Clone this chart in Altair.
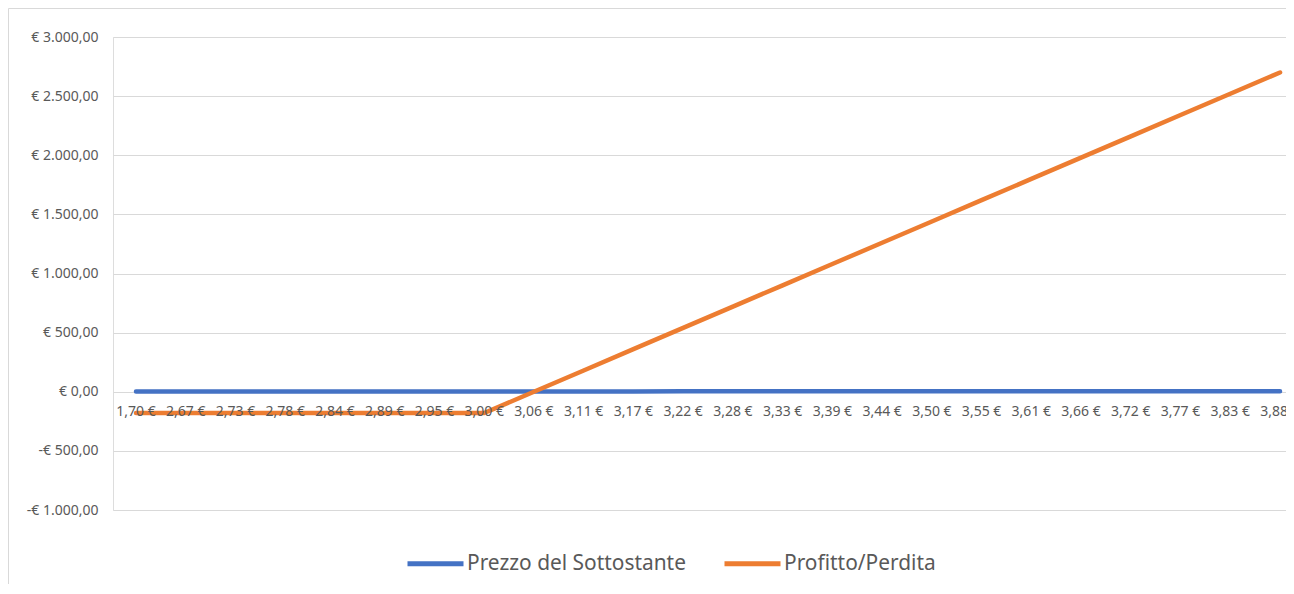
import altair as alt
import pandas as pd

# --- data ---
price_labels = ["1,70 €", "2,67 €", "2,73 €", "2,78 €", "2,84 €", "2,89 €", "2,95 €", "3,00 €",
                "3,06 €", "3,11 €", "3,17 €", "3,22 €", "3,28 €", "3,33 €", "3,39 €", "3,44 €",
                "3,50 €", "3,55 €", "3,61 €", "3,66 €", "3,72 €", "3,77 €", "3,83 €", "3,88 €"]
prezzo = [1.70, 2.67, 2.73, 2.78, 2.84, 2.89, 2.95, 3.00, 3.06, 3.11, 3.17, 3.22,
          3.28, 3.33, 3.39, 3.44, 3.50, 3.55, 3.61, 3.66, 3.72, 3.77, 3.83, 3.88]
profitto = [-180, -180, -180, -180, -180, -180, -180, -180, 0, 180, 360, 540,
            720, 900, 1080, 1260, 1440, 1620, 1800, 1980, 2160, 2340, 2520, 2700]
series_names = ["Prezzo del Sottostante", "Profitto/Perdita"]
series_colors = ["#4472C4", "#ED7D31"]
y_ticks = [-1000, -500, 0, 500, 1000, 1500, 2000, 2500, 3000]

rows = []
for i, lab in enumerate(price_labels):
    rows.append({"idx": i, "label": lab, "serie": series_names[0], "valore": prezzo[i]})
    rows.append({"idx": i, "label": lab, "serie": series_names[1], "valore": profitto[i]})
df = pd.DataFrame(rows)
lab_df = pd.DataFrame({"idx": list(range(len(price_labels))), "label": price_labels})

FONT = "Noto Sans"
TXT = "#595959"
GRID = "#d9d9d9"

xscale = alt.Scale(domain=[-0.4624, 23.12], nice=False, zero=False)
yscale = alt.Scale(domain=[-1000, 3000], nice=False)

ylabel_expr = ("(datum.value < 0 ? '-' : '') + '€ ' + "
               "replace(replace(replace(format(abs(datum.value), ',.2f'), ',', '_'), '.', ','), '_', '.')")

lines = alt.Chart(df).mark_line(strokeWidth=4.5, strokeCap="round", strokeJoin="round").encode(
    x=alt.X("idx:Q", scale=xscale, axis=None),
    y=alt.Y("valore:Q", scale=yscale,
            axis=alt.Axis(values=y_ticks, title=None, domain=False, ticks=False,
                          grid=True, gridColor=GRID, gridWidth=1,
                          labelExpr=ylabel_expr, labelPadding=15,
                          labelColor=TXT, labelFontSize=14, labelFont=FONT)),
    color=alt.Color("serie:N",
                    scale=alt.Scale(domain=series_names, range=series_colors),
                    legend=alt.Legend(title=None, orient="none", direction="horizontal",
                                      legendX=292, legendY=496,
                                      symbolType="stroke", symbolSize=3136,
                                      symbolStrokeWidth=5, labelFontSize=20.9,
                                      labelFont=FONT, labelColor=TXT, labelLimit=0,
                                      labelOffset=1, columnPadding=28)),
)

xlabels = alt.Chart(lab_df).mark_text(
    fontSize=14, font=FONT, color=TXT, baseline="middle", align="center", dy=20
).encode(
    x=alt.X("idx:Q", scale=xscale, axis=None),
    y=alt.datum(0),
    text="label:N",
)

frame_df = pd.DataFrame({"k": [0]})
frame_left = alt.Chart(frame_df).mark_rule(color=GRID, strokeWidth=1).encode(
    x=alt.value(-104.5), y=alt.value(-28.5), y2=alt.value(700))
frame_top = alt.Chart(frame_df).mark_rule(color=GRID, strokeWidth=1).encode(
    x=alt.value(-104.5), x2=alt.value(1400), y=alt.value(-28.5))

chart = alt.layer(frame_left, frame_top, lines, xlabels).properties(
    width=1173, height=473,
    autosize=alt.AutoSizeParams(type="none"),
    padding={"left": 105, "top": 29, "right": 0, "bottom": 74},
).configure_view(strokeWidth=0).configure(background="white")

chart.save("out.html", embed_options={"renderer": "svg", "actions": False})
